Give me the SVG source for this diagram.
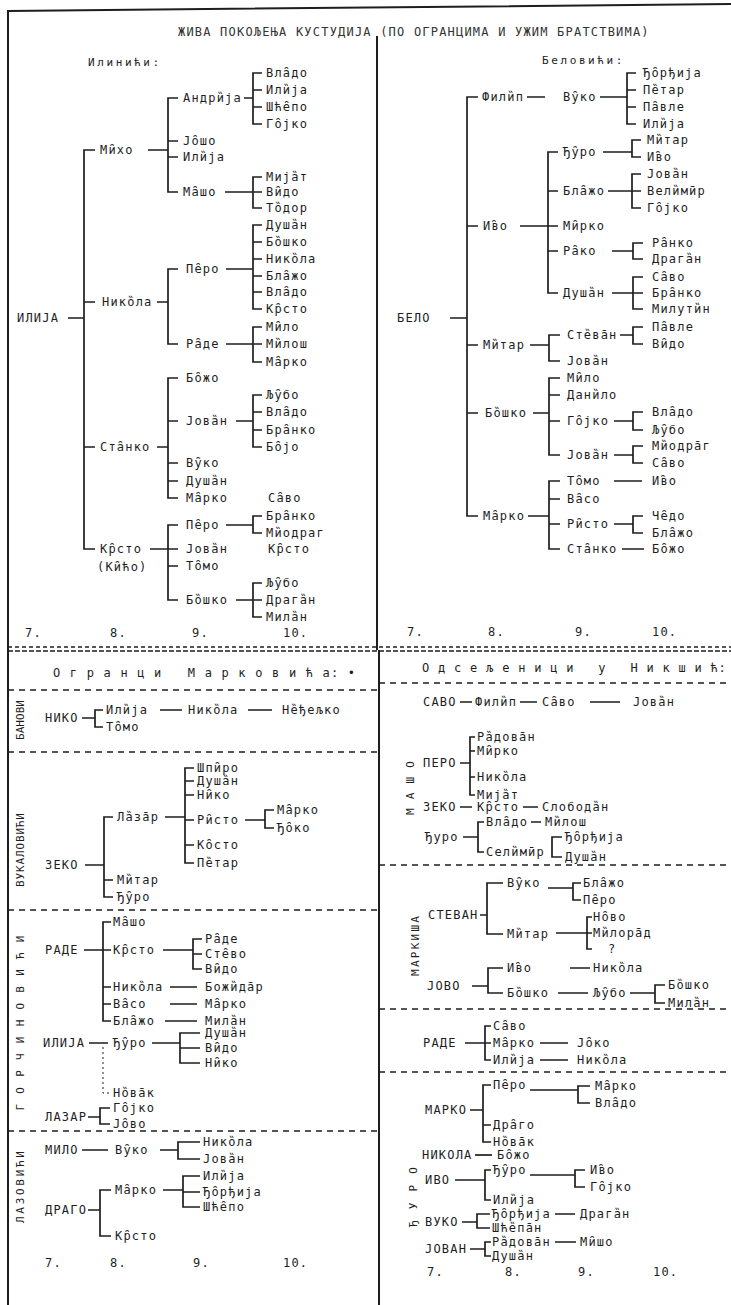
<svg xmlns="http://www.w3.org/2000/svg" width="731" height="1305" viewBox="0 0 731 1305">
<style>
.t{font-family:"DejaVu Sans Mono","Liberation Mono",monospace;font-size:12px;letter-spacing:1.2px;fill:#1e1e1e}
.hs{font-size:11px;letter-spacing:2.6px}
.v{font-family:"DejaVu Sans Mono","Liberation Mono",monospace;font-size:11px;fill:#1e1e1e;text-anchor:middle}
.c path{stroke:#1e1e1e;stroke-width:1.7;fill:none}
.c path.f{stroke-width:1;stroke-dasharray:2 3}
.fr{stroke:#1e1e1e;stroke-width:2;fill:none}
.sep{stroke:#1e1e1e;stroke-width:1.5;stroke-dasharray:6 5;fill:none}
</style>
<rect width="731" height="1305" fill="#fff"/>
<g id="frame">
<path class="fr" d="M8,11 L731,4 M8,10 V1305 M377,36 V650 M379,650 V1305"/>
<path class="sep" d="M8,647 H731" style="stroke-dasharray:4 3"/>
<path class="sep" d="M8,651 H731" style="stroke-dasharray:5 2"/>
<path class="sep" d="M8,690 H378 M8,752 H378 M8,910 H378 M8,1131 H378 M379,683 H731 M379,865 H731 M379,1009 H731 M379,1072 H731"/>
</g>
<g id="headers">
<text class="t" x="178" y="36" style="fill:#333">ЖИВА ПОКОЉЕЊА КУСТУДИЈА (ПО ОГРАНЦИМА И УЖИМ БРАТСТВИМА)</text>
<text class="t hs" x="88" y="66">Илинићи:</text>
<text class="t hs" x="542" y="64">Беловићи:</text>
<text class="t" x="53" y="677" xml:space="preserve">О г р а н ц и   М а р к о в и ћ а: •</text>
<text class="t" x="422" y="672" xml:space="preserve" textLength="305" lengthAdjust="spacing">О д с е љ е н и ц и   у   Н и к ш и ћ:</text>
</g>
<g id="labels">
<text class="v" transform="translate(24,720) rotate(-90)" textLength="40" lengthAdjust="spacing">БАНОВИ</text>
<text class="v" transform="translate(24,850) rotate(-90)" textLength="74" lengthAdjust="spacing">ВУКАЛОВИЋИ</text>
<text class="v" transform="translate(24,1023) rotate(-90)" textLength="175" lengthAdjust="spacing">Г О Р Ч И Н О В И Ћ И</text>
<text class="v" transform="translate(24,1187) rotate(-90)" textLength="72" lengthAdjust="spacing">ЛАЗОВИЋИ</text>
<text class="v" transform="translate(414,788) rotate(-90)" textLength="54" lengthAdjust="spacing">М А Ш О</text>
<text class="v" transform="translate(419,946) rotate(-90)" textLength="60" lengthAdjust="spacing">МАРКИША</text>
<text class="v" transform="translate(417,1197) rotate(-90)" textLength="60" lengthAdjust="spacing">Ђ У Р О</text>
</g>
<g id="gen">
<text class="t" x="25" y="637">7.</text><text class="t" x="110" y="637">8.</text><text class="t" x="192" y="637">9.</text><text class="t" x="283" y="637">10.</text>
<text class="t" x="407" y="636">7.</text><text class="t" x="488" y="636">8.</text><text class="t" x="575" y="636">9.</text><text class="t" x="652" y="636">10.</text>
<text class="t" x="45" y="1267">7.</text><text class="t" x="110" y="1267">8.</text><text class="t" x="193" y="1267">9.</text><text class="t" x="283" y="1267">10.</text>
<text class="t" x="427" y="1276">7.</text><text class="t" x="505" y="1276">8.</text><text class="t" x="578" y="1276">9.</text><text class="t" x="653" y="1276">10.</text>
</g>
<g id="connectors" class="c">
<path d="M68,318H84 M95,150H84V549H95 M84,302H95 M84,447H95"/>
<path d="M148,150H168 M178,98H168V192H178 M168,141H178 M168,157H178"/>
<path d="M244,98H253 M262,73H253V124H262 M253,90H262 M253,107H262"/>
<path d="M225,192H253 M262,177H253V208H262 M253,192H262"/>
<path d="M157,302H168 M178,269H168V344H178"/>
<path d="M226,269H253 M262,225H253V309H262 M253,242H262 M253,259H262 M253,276H262 M253,292H262"/>
<path d="M226,344H253 M262,327H253V362H262 M253,344H262"/>
<path d="M157,447H168 M178,378H168V498H178 M168,421H178 M168,463H178 M168,481H178"/>
<path d="M236,421H253 M262,395H253V447H262 M253,412H262 M253,430H262"/>
<path d="M150,549H168 M178,525H168V600H178 M168,549H178 M168,566H178"/>
<path d="M226,525H253 M262,516H253V533H262"/>
<path d="M236,600H253 M262,583H253V617H262 M253,600H262"/>
<path d="M450,318H467 M478,97H467V516H478 M467,226H478 M467,345H478 M467,413H478"/>
<path d="M527,97H545 M600,97H627 M636,73H627V124H636 M627,90H636 M627,107H636"/>
<path d="M520,226H548 M558,152H548V293H558 M548,191H558 M548,226H558 M548,251H558"/>
<path d="M603,152H632 M641,140H632V157H641"/>
<path d="M608,191H632 M641,174H632V208H641 M632,191H641"/>
<path d="M612,251H633 M643,243H633V259H643"/>
<path d="M612,293H633 M643,277H633V309H643 M633,293H643"/>
<path d="M530,345H549 M560,335H549V361H560"/>
<path d="M620,335H633 M643,327H633V344H643"/>
<path d="M533,413H549 M560,378H549V455H560 M549,395H560 M549,421H560"/>
<path d="M614,421H633 M643,412H633V430H643"/>
<path d="M614,455H633 M643,446H633V463H643"/>
<path d="M528,516H549 M560,481H549V549H560 M549,499H560 M549,524H560"/>
<path d="M614,481H642 M614,524H633 M643,516H633V533H643 M622,549H644"/>
<path d="M82,718H95 M103,710H95V727H103 M160,710H182 M248,710H272"/>
<path d="M85,865H104 M113,817H104V897H113 M104,880H113"/>
<path d="M165,817H185 M194,768H185V863H194 M185,781H194 M185,795H194 M185,820H194 M185,845H194"/>
<path d="M245,820H265 M274,810H265V828H274"/>
<path d="M84,950H103 M111,922H103V1021H111 M103,950H111 M103,987H111 M103,1004H111"/>
<path d="M163,950H193 M202,939H193V969H202 M193,954H202"/>
<path d="M170,987H197 M170,1004H197 M165,1021H197"/>
<path d="M89,1043H108 M152,1043H180 M200,1033H180V1063H200 M180,1048H200"/>
<path class="f" d="M103,1047V1093H111"/>
<path d="M88,1117H100 M110,1108H100V1124H110"/>
<path d="M82,1150H108 M160,1150H178 M200,1142H178V1159H200"/>
<path d="M88,1210H100 M111,1190H100V1236H111"/>
<path d="M163,1190H183 M200,1176H183V1207H200 M183,1192H200"/>
<path d="M460,702H472 M520,702H537 M590,702H620"/>
<path d="M460,763H470 M475,737H470V795H475 M470,751H475 M470,777H475"/>
<path d="M460,807H472 M523,807H538"/>
<path d="M463,837H478 M484,822H478V852H484 M531,822H541 M562,837H552V857H562"/>
<path d="M480,915H487 M503,883H487V934H503"/>
<path d="M548,888H573 M581,883H573V900H581"/>
<path d="M556,933H592 M592,917H587V949H592"/>
<path d="M472,986H488 M503,968H488V993H503"/>
<path d="M570,968H590 M558,993H588 M630,993H655 M665,985H655V1003H665"/>
<path d="M465,1043H485 M491,1026H485V1060H491 M485,1043H491 M540,1043H568 M540,1060H568"/>
<path d="M470,1110H483 M491,1085H483V1142H491 M483,1125H491"/>
<path d="M530,1090H578 M590,1086H578V1103H590"/>
<path d="M475,1155H492"/>
<path d="M455,1180H485 M491,1170H485V1200H491"/>
<path d="M530,1175H575 M585,1170H575V1187H585"/>
<path d="M462,1222H477 M490,1214H477V1228H490 M555,1214H575"/>
<path d="M470,1249H485 M491,1242H485V1256H491 M555,1242H576"/>
</g>
<g id="L1"><text class="t" x="17" y="322">ИЛИЈА</text></g>
<g id="L2"><text class="t" x="100" y="154">Ми̑хо</text></g>
<g id="L3"><text class="t" x="183" y="102">Андри̏ја</text></g>
<g id="L4"><text class="t" x="266" y="77">Вла̑до</text></g>
<g id="L5"><text class="t" x="266" y="94">Или̏ја</text></g>
<g id="L6"><text class="t" x="266" y="111">Шће̑по</text></g>
<g id="L7"><text class="t" x="266" y="128">Го̑јко</text></g>
<g id="L8"><text class="t" x="183" y="145">Јо̑шо</text></g>
<g id="L9"><text class="t" x="183" y="161">Или̏ја</text></g>
<g id="L10"><text class="t" x="183" y="196">Ма̑шо</text></g>
<g id="L11"><text class="t" x="266" y="181">Мија̏т</text></g>
<g id="L12"><text class="t" x="266" y="196">Ви̑до</text></g>
<g id="L13"><text class="t" x="266" y="212">То̏дор</text></g>
<g id="L14"><text class="t" x="102" y="306">Нико̏ла</text></g>
<g id="L15"><text class="t" x="186" y="273">Пе̑ро</text></g>
<g id="L16"><text class="t" x="266" y="229">Душа̏н</text></g>
<g id="L17"><text class="t" x="266" y="246">Бо̏шко</text></g>
<g id="L18"><text class="t" x="266" y="263">Нико̏ла</text></g>
<g id="L19"><text class="t" x="266" y="280">Бла̑жо</text></g>
<g id="L20"><text class="t" x="266" y="296">Вла̑до</text></g>
<g id="L21"><text class="t" x="266" y="313">Кр̑сто</text></g>
<g id="L22"><text class="t" x="186" y="348">Ра̑де</text></g>
<g id="L23"><text class="t" x="266" y="331">Ми̑ло</text></g>
<g id="L24"><text class="t" x="266" y="348">Ми̏лош</text></g>
<g id="L25"><text class="t" x="266" y="366">Ма̑рко</text></g>
<g id="L26"><text class="t" x="100" y="451">Ста̑нко</text></g>
<g id="L27"><text class="t" x="186" y="382">Бо̑жо</text></g>
<g id="L28"><text class="t" x="186" y="425">Јова̏н</text></g>
<g id="L29"><text class="t" x="186" y="467">Ву̑ко</text></g>
<g id="L30"><text class="t" x="186" y="485">Душа̏н</text></g>
<g id="L31"><text class="t" x="186" y="502">Ма̑рко</text></g>
<g id="L32"><text class="t" x="266" y="399">Љу̑бо</text></g>
<g id="L33"><text class="t" x="266" y="416">Вла̑до</text></g>
<g id="L34"><text class="t" x="266" y="434">Бра̑нко</text></g>
<g id="L35"><text class="t" x="266" y="451">Бо̑јо</text></g>
<g id="L36"><text class="t" x="100" y="553">Кр̑сто</text><text class="t" x="97" y="571">(Ки̑ћо)</text></g>
<g id="L37"><text class="t" x="186" y="529">Пе̑ро</text></g>
<g id="L38"><text class="t" x="186" y="553">Јова̏н</text></g>
<g id="L39"><text class="t" x="186" y="570">То̑мо</text></g>
<g id="L40"><text class="t" x="186" y="604">Бо̏шко</text></g>
<g id="L41"><text class="t" x="268" y="502">Са̑во</text></g>
<g id="L42"><text class="t" x="266" y="520">Бра̑нко</text></g>
<g id="L43"><text class="t" x="266" y="537">Ми̏одраг</text></g>
<g id="L44"><text class="t" x="268" y="553">Кр̑сто</text></g>
<g id="L45"><text class="t" x="266" y="587">Љу̑бо</text></g>
<g id="L46"><text class="t" x="266" y="604">Драга̏н</text></g>
<g id="L47"><text class="t" x="266" y="621">Мила̏н</text></g>
<g id="R1"><text class="t" x="397" y="322">БЕЛО</text></g>
<g id="R2"><text class="t" x="482" y="101">Фили̏п</text></g>
<g id="R3"><text class="t" x="563" y="101">Ву̑ко</text></g>
<g id="R4"><text class="t" x="643" y="77">Ђо̑рђија</text></g>
<g id="R5"><text class="t" x="643" y="94">Пе̏тар</text></g>
<g id="R6"><text class="t" x="643" y="111">Па̑вле</text></g>
<g id="R7"><text class="t" x="643" y="128">Или̏ја</text></g>
<g id="R8"><text class="t" x="483" y="230">И̑во</text></g>
<g id="R9"><text class="t" x="563" y="156">Ђу̑ро</text></g>
<g id="R10"><text class="t" x="647" y="144">Ми̏тар</text></g>
<g id="R11"><text class="t" x="647" y="161">И̑во</text></g>
<g id="R12"><text class="t" x="563" y="195">Бла̑жо</text></g>
<g id="R13"><text class="t" x="647" y="178">Јова̏н</text></g>
<g id="R14"><text class="t" x="647" y="195">Вели̏мӣр</text></g>
<g id="R15"><text class="t" x="647" y="212">Го̑јко</text></g>
<g id="R16"><text class="t" x="563" y="230">Ми̑рко</text></g>
<g id="R17"><text class="t" x="563" y="255">Ра̑ко</text></g>
<g id="R18"><text class="t" x="652" y="247">Ра̑нко</text></g>
<g id="R19"><text class="t" x="652" y="263">Драга̏н</text></g>
<g id="R20"><text class="t" x="563" y="297">Душа̏н</text></g>
<g id="R21"><text class="t" x="652" y="281">Са̑во</text></g>
<g id="R22"><text class="t" x="652" y="297">Бра̑нко</text></g>
<g id="R23"><text class="t" x="652" y="313">Милути̏н</text></g>
<g id="R24"><text class="t" x="483" y="349">Ми̏тар</text></g>
<g id="R25"><text class="t" x="567" y="339">Сте̏ва̄н</text></g>
<g id="R26"><text class="t" x="567" y="365">Јова̏н</text></g>
<g id="R27"><text class="t" x="652" y="331">Па̑вле</text></g>
<g id="R28"><text class="t" x="652" y="348">Ви̑до</text></g>
<g id="R29"><text class="t" x="485" y="417">Бо̏шко</text></g>
<g id="R30"><text class="t" x="567" y="382">Ми̑ло</text></g>
<g id="R31"><text class="t" x="567" y="399">Дани̏ло</text></g>
<g id="R32"><text class="t" x="567" y="425">Го̑јко</text></g>
<g id="R33"><text class="t" x="567" y="459">Јова̏н</text></g>
<g id="R34"><text class="t" x="652" y="416">Вла̑до</text></g>
<g id="R35"><text class="t" x="652" y="434">Љу̑бо</text></g>
<g id="R36"><text class="t" x="652" y="450">Ми̏одра̄г</text></g>
<g id="R37"><text class="t" x="652" y="467">Са̑во</text></g>
<g id="R38"><text class="t" x="483" y="520">Ма̑рко</text></g>
<g id="R39"><text class="t" x="567" y="485">То̑мо</text></g>
<g id="R40"><text class="t" x="567" y="503">Ва̑со</text></g>
<g id="R41"><text class="t" x="567" y="528">Ри̑сто</text></g>
<g id="R42"><text class="t" x="567" y="553">Ста̑нко</text></g>
<g id="R43"><text class="t" x="652" y="485">И̑во</text></g>
<g id="R44"><text class="t" x="652" y="520">Че̑до</text></g>
<g id="R45"><text class="t" x="652" y="537">Бла̑жо</text></g>
<g id="R46"><text class="t" x="652" y="553">Бо̑жо</text></g>
<g id="B1"><text class="t" x="45" y="722">НИКО</text></g>
<g id="B2"><text class="t" x="106" y="714">Или̏ја</text></g>
<g id="B3"><text class="t" x="106" y="731">То̑мо</text></g>
<g id="B4"><text class="t" x="188" y="714">Нико̏ла</text></g>
<g id="B5"><text class="t" x="282" y="714">Не̏ђељко</text></g>
<g id="B6"><text class="t" x="45" y="869">ЗЕКО</text></g>
<g id="B7"><text class="t" x="117" y="821">Ла̏за̄р</text></g>
<g id="B8"><text class="t" x="117" y="884">Ми̏тар</text></g>
<g id="B9"><text class="t" x="117" y="901">Ђу̑ро</text></g>
<g id="B10"><text class="t" x="197" y="772">Шпи̑ро</text></g>
<g id="B11"><text class="t" x="197" y="785">Душа̏н</text></g>
<g id="B12"><text class="t" x="197" y="799">Ни̑ко</text></g>
<g id="B13"><text class="t" x="197" y="824">Ри̑сто</text></g>
<g id="B14"><text class="t" x="197" y="849">Ко̑сто</text></g>
<g id="B15"><text class="t" x="197" y="867">Пе̏тар</text></g>
<g id="B16"><text class="t" x="277" y="814">Ма̑рко</text></g>
<g id="B17"><text class="t" x="277" y="832">Ђо̑ко</text></g>
<g id="B18"><text class="t" x="45" y="954">РАДЕ</text></g>
<g id="B19"><text class="t" x="113" y="926">Ма̑шо</text></g>
<g id="B20"><text class="t" x="113" y="954">Кр̑сто</text></g>
<g id="B21"><text class="t" x="113" y="991">Нико̏ла</text></g>
<g id="B22"><text class="t" x="113" y="1008">Ва̑со</text></g>
<g id="B23"><text class="t" x="113" y="1025">Бла̑жо</text></g>
<g id="B24"><text class="t" x="205" y="943">Ра̑де</text></g>
<g id="B25"><text class="t" x="205" y="958">Сте̑во</text></g>
<g id="B26"><text class="t" x="205" y="973">Ви̑до</text></g>
<g id="B27"><text class="t" x="205" y="991">Божи̏да̄р</text></g>
<g id="B28"><text class="t" x="205" y="1008">Ма̑рко</text></g>
<g id="B29"><text class="t" x="205" y="1025">Мила̏н</text></g>
<g id="B30"><text class="t" x="43" y="1047">ИЛИЈА</text></g>
<g id="B31"><text class="t" x="113" y="1047">Ђу̑ро</text></g>
<g id="B32"><text class="t" x="205" y="1037">Душа̏н</text></g>
<g id="B33"><text class="t" x="205" y="1052">Ви̑до</text></g>
<g id="B34"><text class="t" x="205" y="1067">Ни̑ко</text></g>
<g id="B35"><text class="t" x="113" y="1097">Но̏ва̄к</text></g>
<g id="B36"><text class="t" x="45" y="1121">ЛАЗАР</text></g>
<g id="B37"><text class="t" x="113" y="1112">Го̑јко</text></g>
<g id="B38"><text class="t" x="113" y="1128">Јо̑во</text></g>
<g id="B39"><text class="t" x="45" y="1154">МИЛО</text></g>
<g id="B40"><text class="t" x="115" y="1154">Ву̑ко</text></g>
<g id="B41"><text class="t" x="203" y="1146">Нико̏ла</text></g>
<g id="B42"><text class="t" x="203" y="1163">Јова̏н</text></g>
<g id="B43"><text class="t" x="45" y="1214">ДРАГО</text></g>
<g id="B44"><text class="t" x="115" y="1194">Ма̑рко</text></g>
<g id="B45"><text class="t" x="115" y="1240">Кр̑сто</text></g>
<g id="B46"><text class="t" x="203" y="1180">Или̏ја</text></g>
<g id="B47"><text class="t" x="203" y="1196">Ђо̑рђија</text></g>
<g id="B48"><text class="t" x="203" y="1211">Шће̑по</text></g>
<g id="D1"><text class="t" x="423" y="706">САВО</text></g>
<g id="D2"><text class="t" x="475" y="706">Фили̏п</text></g>
<g id="D3"><text class="t" x="542" y="706">Са̑во</text></g>
<g id="D4"><text class="t" x="633" y="706">Јова̏н</text></g>
<g id="D5"><text class="t" x="423" y="767">ПЕРО</text></g>
<g id="D6"><text class="t" x="477" y="741">Ра̏дова̄н</text></g>
<g id="D7"><text class="t" x="477" y="755">Ми̑рко</text></g>
<g id="D8"><text class="t" x="477" y="781">Нико̏ла</text></g>
<g id="D9"><text class="t" x="477" y="799">Мија̏т</text></g>
<g id="D10"><text class="t" x="423" y="811">ЗЕКО</text></g>
<g id="D11"><text class="t" x="477" y="811">Кр̑сто</text></g>
<g id="D12"><text class="t" x="542" y="811">Слобода̏н</text></g>
<g id="D13"><text class="t" x="425" y="841">Ђуро</text></g>
<g id="D14"><text class="t" x="486" y="826">Вла̑до</text></g>
<g id="D15"><text class="t" x="545" y="826">Ми̏лош</text></g>
<g id="D16"><text class="t" x="486" y="856">Сели̏мӣр</text></g>
<g id="D17"><text class="t" x="565" y="841">Ђо̑рђија</text></g>
<g id="D18"><text class="t" x="565" y="861">Душа̏н</text></g>
<g id="D19"><text class="t" x="428" y="919">СТЕВАН</text></g>
<g id="D20"><text class="t" x="507" y="887">Ву̑ко</text></g>
<g id="D21"><text class="t" x="583" y="887">Бла̑жо</text></g>
<g id="D22"><text class="t" x="583" y="904">Пе̑ро</text></g>
<g id="D23"><text class="t" x="507" y="938">Ми̏тар</text></g>
<g id="D24"><text class="t" x="593" y="921">Но̑во</text></g>
<g id="D25"><text class="t" x="593" y="937">Ми̏лора̄д</text></g>
<g id="D26"><text class="t" x="608" y="953">?</text></g>
<g id="D27"><text class="t" x="427" y="990">ЈОВО</text></g>
<g id="D28"><text class="t" x="507" y="972">И̑во</text></g>
<g id="D29"><text class="t" x="507" y="997">Бо̏шко</text></g>
<g id="D30"><text class="t" x="593" y="972">Нико̏ла</text></g>
<g id="D31"><text class="t" x="593" y="997">Љу̑бо</text></g>
<g id="D32"><text class="t" x="668" y="989">Бо̏шко</text></g>
<g id="D33"><text class="t" x="668" y="1007">Мила̏н</text></g>
<g id="D34"><text class="t" x="423" y="1047">РАДЕ</text></g>
<g id="D35"><text class="t" x="493" y="1030">Са̑во</text></g>
<g id="D36"><text class="t" x="493" y="1047">Ма̑рко</text></g>
<g id="D37"><text class="t" x="493" y="1064">Или̏ја</text></g>
<g id="D38"><text class="t" x="577" y="1047">Јо̑ко</text></g>
<g id="D39"><text class="t" x="577" y="1064">Нико̏ла</text></g>
<g id="D40"><text class="t" x="425" y="1114">МАРКО</text></g>
<g id="D41"><text class="t" x="493" y="1089">Пе̑ро</text></g>
<g id="D42"><text class="t" x="493" y="1129">Дра̑го</text></g>
<g id="D43"><text class="t" x="493" y="1146">Но̏ва̄к</text></g>
<g id="D44"><text class="t" x="595" y="1090">Ма̑рко</text></g>
<g id="D45"><text class="t" x="595" y="1107">Вла̑до</text></g>
<g id="D46"><text class="t" x="422" y="1159">НИКОЛА</text></g>
<g id="D47"><text class="t" x="497" y="1159">Бо̑жо</text></g>
<g id="D48"><text class="t" x="425" y="1184">ИВО</text></g>
<g id="D49"><text class="t" x="493" y="1174">Ђу̑ро</text></g>
<g id="D50"><text class="t" x="493" y="1204">Или̏ја</text></g>
<g id="D51"><text class="t" x="590" y="1174">И̑во</text></g>
<g id="D52"><text class="t" x="590" y="1191">Го̑јко</text></g>
<g id="D53"><text class="t" x="425" y="1226">ВУКО</text></g>
<g id="D54"><text class="t" x="492" y="1218">Ђо̑рђија</text></g>
<g id="D55"><text class="t" x="492" y="1232">Шће̏па̄н</text></g>
<g id="D56"><text class="t" x="580" y="1218">Драга̏н</text></g>
<g id="D57"><text class="t" x="425" y="1253">ЈОВАН</text></g>
<g id="D58"><text class="t" x="492" y="1246">Ра̏дова̄н</text></g>
<g id="D59"><text class="t" x="492" y="1260">Душа̏н</text></g>
<g id="D60"><text class="t" x="580" y="1246">Ми̑шо</text></g>
</svg>
